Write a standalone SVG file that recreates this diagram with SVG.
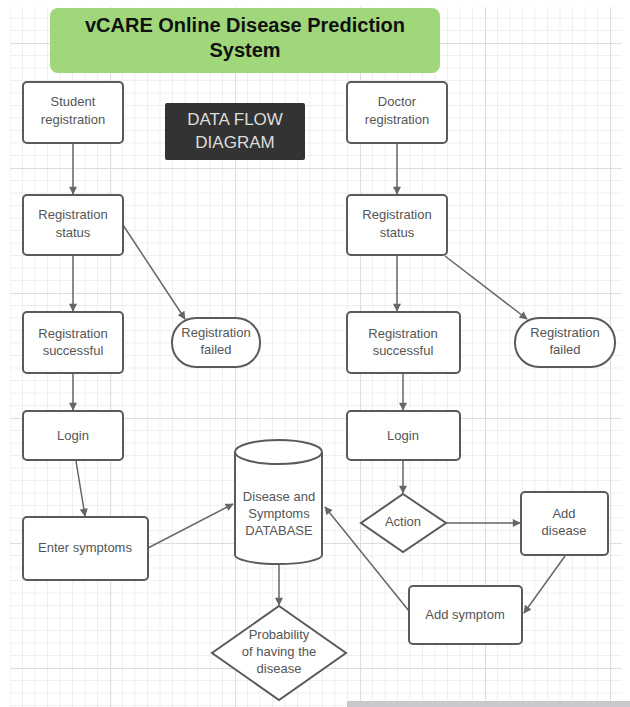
<svg xmlns="http://www.w3.org/2000/svg" width="630" height="707" viewBox="0 0 630 707">
  <style>
    .box { fill: #ffffff; stroke: #5a5a5a; stroke-width: 2; }
    .lbl { font-family: "Liberation Sans", Arial, sans-serif; font-size: 13px; fill: #555555; text-anchor: middle; }
    .title { font-family: "Liberation Sans", Arial, sans-serif; font-size: 20px; font-weight: bold; fill: #111111; text-anchor: middle; }
    .dark { font-family: "Liberation Sans", Arial, sans-serif; font-size: 17px; fill: #dddddd; text-anchor: middle; }
    .edge { fill: none; stroke: #666666; stroke-width: 1.5; marker-end: url(#arrow); }
  </style>
  <defs>
    <marker id="arrow" viewBox="0 0 10 10" refX="9" refY="5" markerWidth="9" markerHeight="8" markerUnits="userSpaceOnUse" orient="auto">
      <path d="M0,0 L10,5 L0,10 z" fill="#666666"/>
    </marker>
    <pattern id="grid" x="-15" y="43" width="125" height="125" patternUnits="userSpaceOnUse">
      <path d="M12.5,0V125M25,0V125M37.5,0V125M50,0V125M62.5,0V125M75,0V125M87.5,0V125M100,0V125M112.5,0V125M0,12.5H125M0,25H125M0,37.5H125M0,50H125M0,62.5H125M0,75H125M0,87.5H125M0,100H125M0,112.5H125" stroke="#efefef" stroke-width="1" fill="none"/>
      <path d="M0.5,0V125M0,0.5H125" stroke="#dedede" stroke-width="1.2" fill="none"/>
    </pattern>
  </defs>

  <!-- canvas -->
  <rect width="630" height="707" fill="#ffffff"/>
  <rect x="10" y="7" width="612" height="700" fill="url(#grid)"/>
  <rect x="347" y="701" width="283" height="6" fill="#c9c9cd"/>

  <!-- title -->
  <g id="title">
    <rect x="50" y="8" width="390" height="65" rx="8" fill="#9fd77a"/>
    <text class="title" x="245" y="32">vCARE Online Disease Prediction</text>
    <text class="title" x="245" y="57">System</text>
  </g>

  <g id="dfd-label">
    <rect x="165" y="103" width="140" height="57" rx="2" fill="#333333"/>
    <text class="dark" x="235" y="125">DATA FLOW</text>
    <text class="dark" x="235" y="148">DIAGRAM</text>
  </g>

  <!-- connectors -->
  <g id="connectors">
    <line class="edge" x1="73" y1="143" x2="73" y2="194"/>
    <line class="edge" x1="73" y1="255" x2="73" y2="311"/>
    <line class="edge" x1="123" y1="225" x2="185" y2="319"/>
    <line class="edge" x1="73" y1="373" x2="73" y2="410"/>
    <line class="edge" x1="76" y1="461" x2="85" y2="516"/>
    <line class="edge" x1="148" y1="548" x2="233" y2="504"/>
    <line class="edge" x1="279" y1="562" x2="279" y2="605"/>
    <line class="edge" x1="397" y1="143" x2="397" y2="194"/>
    <line class="edge" x1="397" y1="255" x2="397" y2="311"/>
    <line class="edge" x1="445" y1="256" x2="527" y2="319"/>
    <line class="edge" x1="403" y1="373" x2="403" y2="410"/>
    <line class="edge" x1="403" y1="460" x2="403" y2="493"/>
    <line class="edge" x1="446" y1="523" x2="520" y2="523"/>
    <line class="edge" x1="565" y1="556" x2="524" y2="613"/>
    <line class="edge" x1="409" y1="611" x2="325" y2="507"/>
  </g>

  <!-- student side -->
  <g id="student-registration">
    <rect class="box" x="23" y="82" width="100" height="61" rx="4"/>
    <text class="lbl" x="73" y="106">Student</text>
    <text class="lbl" x="73" y="124">registration</text>
  </g>
  <g id="student-status">
    <rect class="box" x="23" y="195" width="100" height="60" rx="4"/>
    <text class="lbl" x="73" y="219">Registration</text>
    <text class="lbl" x="73" y="237">status</text>
  </g>
  <g id="student-success">
    <rect class="box" x="23" y="312" width="100" height="61" rx="4"/>
    <text class="lbl" x="73" y="338">Registration</text>
    <text class="lbl" x="73" y="355">successful</text>
  </g>
  <g id="student-failed">
    <rect class="box" x="172" y="318" width="88" height="49" rx="24"/>
    <text class="lbl" x="216" y="337">Registration</text>
    <text class="lbl" x="216" y="354">failed</text>
  </g>
  <g id="student-login">
    <rect class="box" x="23" y="411" width="100" height="49" rx="4"/>
    <text class="lbl" x="73" y="440">Login</text>
  </g>
  <g id="enter-symptoms">
    <rect class="box" x="23" y="517" width="125" height="63" rx="4"/>
    <text class="lbl" x="85" y="552">Enter symptoms</text>
  </g>

  <!-- database -->
  <g id="database">
    <path class="box" d="M235,452 L235,555 A43.5,9 0 0 0 322,555 L322,452"/>
    <ellipse class="box" cx="278.5" cy="452" rx="43.5" ry="12"/>
    <text class="lbl" x="279" y="501">Disease and</text>
    <text class="lbl" x="279" y="518">Symptoms</text>
    <text class="lbl" x="279" y="535">DATABASE</text>
  </g>
  <g id="probability">
    <polygon class="box" points="279,606 346,653 279,700 212,653"/>
    <text class="lbl" x="279" y="639">Probability</text>
    <text class="lbl" x="279" y="656">of having the</text>
    <text class="lbl" x="279" y="673">disease</text>
  </g>

  <!-- doctor side -->
  <g id="doctor-registration">
    <rect class="box" x="347" y="82" width="100" height="61" rx="4"/>
    <text class="lbl" x="397" y="106">Doctor</text>
    <text class="lbl" x="397" y="124">registration</text>
  </g>
  <g id="doctor-status">
    <rect class="box" x="347" y="195" width="100" height="60" rx="4"/>
    <text class="lbl" x="397" y="219">Registration</text>
    <text class="lbl" x="397" y="237">status</text>
  </g>
  <g id="doctor-success">
    <rect class="box" x="347" y="312" width="113" height="61" rx="4"/>
    <text class="lbl" x="403" y="338">Registration</text>
    <text class="lbl" x="403" y="355">successful</text>
  </g>
  <g id="doctor-failed">
    <rect class="box" x="515" y="318" width="100" height="49" rx="24"/>
    <text class="lbl" x="565" y="337">Registration</text>
    <text class="lbl" x="565" y="354">failed</text>
  </g>
  <g id="doctor-login">
    <rect class="box" x="347" y="411" width="113" height="49" rx="4"/>
    <text class="lbl" x="403" y="440">Login</text>
  </g>
  <g id="action">
    <polygon class="box" points="403,494 446,523 403,552 361,523"/>
    <text class="lbl" x="403" y="526">Action</text>
  </g>
  <g id="add-disease">
    <rect class="box" x="521" y="492" width="87" height="63" rx="4"/>
    <text class="lbl" x="564" y="518">Add</text>
    <text class="lbl" x="564" y="535">disease</text>
  </g>
  <g id="add-symptom">
    <rect class="box" x="409" y="586" width="113" height="58" rx="4"/>
    <text class="lbl" x="465" y="619">Add symptom</text>
  </g>
</svg>
